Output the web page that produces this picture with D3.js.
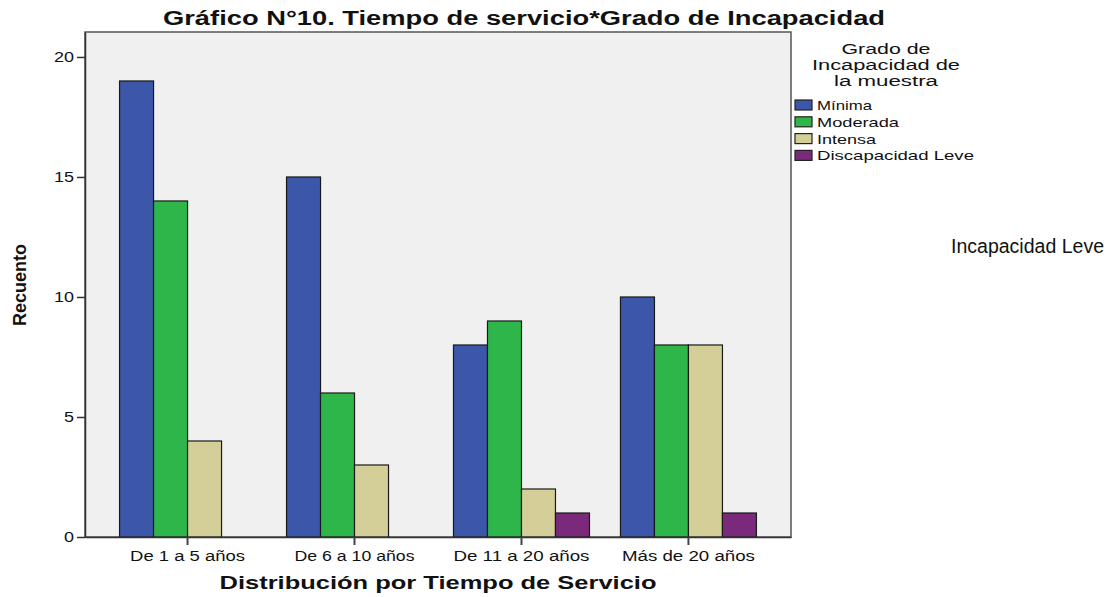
<!DOCTYPE html>
<html><head><meta charset="utf-8">
<script src="https://cdn.jsdelivr.net/npm/d3@7/dist/d3.min.js"></script>
<style>
body{margin:0;background:#fff;}
svg text{font-family:"Liberation Sans",Arial,sans-serif;fill:#111;}
</style></head>
<body><svg id="c" width="1113" height="597"></svg>
<script>
const categories = ["De 1 a 5 años","De 6 a 10 años","De 11 a 20 años","Más de 20 años"];
const seriesNames = ["Mínima","Moderada","Intensa","Discapacidad Leve"];
const minima = [19,15,8,10];
const moderada = [14,6,9,8];
const intensa = [4,3,2,8];
const leve = [0,0,1,1];
const yTicks = [0,5,10,15,20];
const colors = ["#3c56aa","#2fb64a","#d4cf98","#7b2a7b"];
const title = "Gráfico N°10. Tiempo de servicio*Grado de Incapacidad";
const xTitle = "Distribución por Tiempo de Servicio";
const yTitle = "Recuento";
const legendTitle = ["Grado de","Incapacidad de","la muestra"];
const strayText = "Incapacidad Leve";

const series = [minima, moderada, intensa, leve];
const svg = d3.select("#c");
const L = 85, R = 791, T = 32, B = 537;
const SG = "spacingAndGlyphs";

const y = d3.scaleLinear().domain([0, 21.04]).range([B, T]);
const x0 = d3.scaleBand().domain(categories).range([L, R]).paddingInner(0.1856).paddingOuter(0.207);
const x1 = d3.scaleBand().domain(d3.range(series.length)).range([0, x0.bandwidth()]);

svg.append("rect").attr("x", L).attr("y", T).attr("width", R - L).attr("height", B - T)
  .attr("fill", "#f0f0f0").attr("stroke", "#555").attr("stroke-width", 1.5);

categories.forEach((c, i) => {
  series.forEach((s, j) => {
    if (s[i] <= 0) return;
    svg.append("rect")
      .attr("x", x0(c) + x1(j)).attr("y", y(s[i]))
      .attr("width", x1.bandwidth()).attr("height", B - y(s[i]))
      .attr("fill", colors[j]).attr("stroke", "#1a1a1a").attr("stroke-width", 1.2);
  });
});

const yAxis = d3.axisLeft(y).tickValues(yTicks).tickSize(8).tickSizeOuter(0).tickPadding(3).tickFormat(d3.format("d"));
const gy = svg.append("g").attr("transform", `translate(${L},0)`).call(yAxis);
gy.select(".domain").attr("stroke", "#333").attr("stroke-width", 1.5);
gy.selectAll(".tick line").attr("stroke", "#333").attr("stroke-width", 1.5);
gy.selectAll(".tick text").style("font-size", "14px").attr("fill", "#222")
  .attr("textLength", d => d >= 10 ? 20 : 10).attr("lengthAdjust", SG);

const xAxis = d3.axisBottom(x0).tickSize(8).tickSizeOuter(0).tickPadding(6);
const gx = svg.append("g").attr("transform", `translate(0,${B})`).call(xAxis);
gx.select(".domain").attr("stroke", "#333").attr("stroke-width", 1.5);
gx.selectAll(".tick line").attr("stroke", "#444").attr("stroke-width", 2);
gx.selectAll(".tick text").style("font-size", "14px").attr("fill", "#222")
  .attr("textLength", (d, i) => [115, 120, 136, 133][i]).attr("lengthAdjust", SG);

svg.append("text").attr("x", 524).attr("y", 25).attr("text-anchor", "middle")
  .style("font-size", "19.5px").style("font-weight", "bold")
  .attr("textLength", 722).attr("lengthAdjust", SG).text(title);

svg.append("text").attr("x", 438).attr("y", 589).attr("text-anchor", "middle")
  .style("font-size", "18px").style("font-weight", "bold")
  .attr("textLength", 437).attr("lengthAdjust", SG).text(xTitle);

svg.append("text").attr("transform", "translate(26,285) rotate(-90)").attr("text-anchor", "middle")
  .style("font-size", "19px").style("font-weight", "bold")
  .attr("textLength", 82).attr("lengthAdjust", SG).text(yTitle);

const ltLens = [89, 148, 104];
legendTitle.forEach((t, i) => {
  svg.append("text").attr("x", 886).attr("y", 54 + i * 16).attr("text-anchor", "middle")
    .style("font-size", "14px").attr("fill", "#222")
    .attr("textLength", ltLens[i]).attr("lengthAdjust", SG).text(t);
});

const itemLens = [55, 82, 59, 157];
seriesNames.forEach((n, i) => {
  const cy = 105 + i * 16.8;
  svg.append("rect").attr("x", 795).attr("y", cy - 5).attr("width", 17).attr("height", 10)
    .attr("fill", colors[i]).attr("stroke", "#222").attr("stroke-width", 1.2);
  svg.append("text").attr("x", 817).attr("y", cy + 5).style("font-size", "13px").attr("fill", "#111")
    .attr("textLength", itemLens[i]).attr("lengthAdjust", SG).text(n);
});

svg.append("text").attr("x", 951).attr("y", 253).style("font-size", "20px")
  .attr("fill", "#3a3a50").attr("textLength", 153).attr("lengthAdjust", SG)
  .style("font-family", "'Liberation Sans Narrow','Liberation Sans',sans-serif")
  .text(strayText);
</script></body></html>
